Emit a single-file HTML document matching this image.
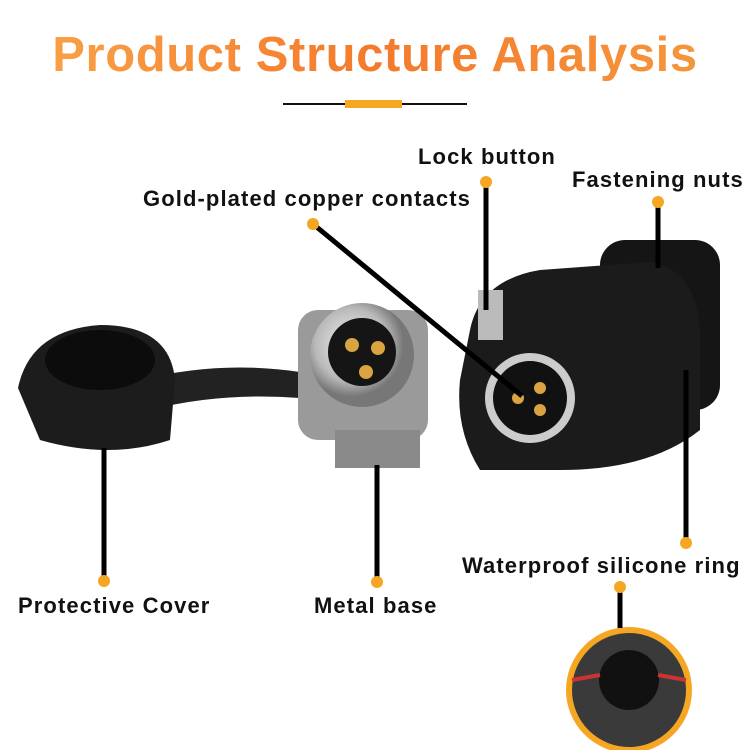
<!DOCTYPE html>
<html><head><meta charset="utf-8"><style>
body{margin:0;width:750px;height:750px;background:#fff;overflow:hidden;position:relative;font-family:"Liberation Sans",sans-serif}
.t{position:absolute;font-weight:bold;font-size:22px;letter-spacing:1.1px;color:#111;white-space:nowrap}
h1{position:absolute;top:27px;left:0;width:750px;text-align:center;margin:0;font-size:49px;letter-spacing:0.6px;font-weight:bold;
background:linear-gradient(90deg,#f9a64a,#f47a2c 50%,#f59a3e);-webkit-background-clip:text;background-clip:text;color:transparent}
</style></head><body>
<h1>Product Structure Analysis</h1>
<div style="position:absolute;left:283px;top:103px;width:184px;height:2px;background:#111"></div>
<div style="position:absolute;left:345px;top:100px;width:57px;height:8px;background:#f5a623"></div>
<svg width="750" height="750" style="position:absolute;left:0;top:0">
<defs>
<radialGradient id="m" cx="0.4" cy="0.4"><stop offset="0" stop-color="#f2f2f2"/><stop offset="0.7" stop-color="#b9b9b9"/><stop offset="1" stop-color="#777"/></radialGradient>
</defs>
<path d="M140 380 Q220 360 300 372 L300 398 Q220 392 150 410Z" fill="#222"/>
<path d="M18 388 Q30 330 100 325 Q170 325 175 380 L170 440 Q110 460 40 440Z" fill="#1c1c1c"/>
<ellipse cx="100" cy="360" rx="55" ry="30" fill="#0c0c0c"/>
<rect x="298" y="310" width="130" height="130" rx="20" fill="#9a9a9a"/>
<circle cx="362" cy="355" r="52" fill="url(#m)"/>
<circle cx="362" cy="352" r="34" fill="#151515"/>
<circle cx="352" cy="345" r="7" fill="#d9a441"/><circle cx="378" cy="348" r="7" fill="#d9a441"/><circle cx="366" cy="372" r="7" fill="#d9a441"/>
<rect x="335" y="430" width="85" height="38" fill="#8a8a8a"/>
<rect x="600" y="240" width="120" height="170" rx="25" fill="#151515"/>
<path d="M470 330 Q480 280 540 270 L650 262 Q700 270 700 340 L700 430 Q650 470 560 470 L480 470 Q455 430 460 380Z" fill="#1b1b1b"/>
<rect x="478" y="290" width="25" height="50" fill="#bbb"/>
<circle cx="530" cy="398" r="45" fill="#ccc"/>
<circle cx="530" cy="398" r="37" fill="#111"/>
<circle cx="518" cy="398" r="6" fill="#d9a441"/><circle cx="540" cy="388" r="6" fill="#d9a441"/><circle cx="540" cy="410" r="6" fill="#d9a441"/>
<circle cx="629" cy="690" r="60" fill="#3a3a3a" stroke="#f5a623" stroke-width="6"/>
<circle cx="629" cy="680" r="30" fill="#111"/>
<path d="M572 680 L600 675 M686 680 L658 675" stroke="#c33" stroke-width="4"/>
<g stroke="#000" stroke-width="5">
<line x1="486" y1="182" x2="486" y2="310"/>
<line x1="658" y1="202" x2="658" y2="268"/>
<line x1="313" y1="224" x2="522" y2="396"/>
<line x1="104" y1="581" x2="104" y2="448"/>
<line x1="377" y1="582" x2="377" y2="465"/>
<line x1="686" y1="543" x2="686" y2="370"/>
<line x1="620" y1="587" x2="620" y2="628"/>
</g>
<g fill="#f5a623">
<circle cx="486" cy="182" r="6"/><circle cx="658" cy="202" r="6"/><circle cx="313" cy="224" r="6"/>
<circle cx="104" cy="581" r="6"/><circle cx="377" cy="582" r="6"/><circle cx="686" cy="543" r="6"/><circle cx="620" cy="587" r="6"/>
</g>
</svg>
<div class="t" style="left:418px;top:144px">Lock button</div>
<div class="t" style="left:572px;top:167px">Fastening nuts</div>
<div class="t" style="left:143px;top:186px">Gold-plated copper contacts</div>
<div class="t" style="left:18px;top:593px">Protective Cover</div>
<div class="t" style="left:314px;top:593px">Metal base</div>
<div class="t" style="left:462px;top:553px">Waterproof silicone ring</div>
</body></html>
